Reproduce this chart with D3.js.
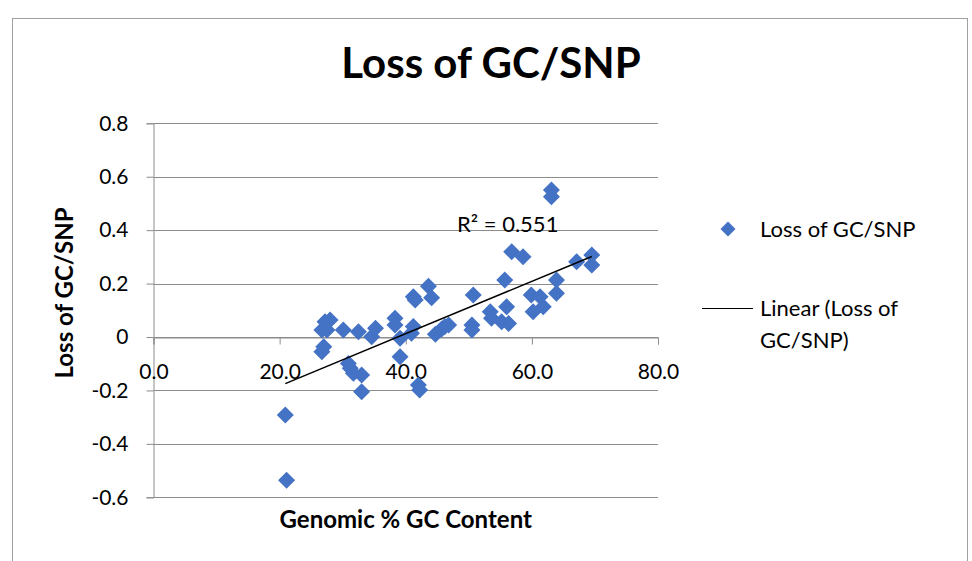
<!DOCTYPE html>
<html><head><meta charset="utf-8">
<script src="https://cdn.jsdelivr.net/npm/d3@7"></script>
<style>body{margin:0;background:#fff}svg{display:block}text{font-family:Lato,"Open Sans",sans-serif}</style>
</head><body><svg id="c" width="972" height="561"></svg>
<script>
const gcContent = [20.9,21.1,27.2,28.0,26.7,27.5,30.1,32.5,35.2,34.6,27.0,26.7,30.9,31.2,33.0,31.7,33.0,
  38.3,38.3,39.1,39.1,41.2,40.9,41.2,41.5,43.6,44.1,42.0,42.2,44.7,45.7,46.2,46.8,
  50.7,50.5,50.5,53.4,53.6,55.2,56.3,55.7,56.0,56.8,58.6,59.9,60.2,61.3,61.8,63.1,63.1,63.9,63.9,67.1,69.5,69.5];
const lossGcSnp = [-0.292,-0.536,0.057,0.064,0.026,0.026,0.026,0.020,0.033,0.001,-0.036,-0.055,-0.099,-0.117,-0.142,-0.136,-0.205,
  0.070,0.045,-0.005,-0.074,0.039,0.014,0.151,0.139,0.190,0.147,-0.180,-0.198,0.010,0.030,0.039,0.045,
  0.157,0.045,0.026,0.095,0.070,0.057,0.051,0.213,0.113,0.319,0.300,0.157,0.095,0.151,0.113,0.550,0.525,0.213,0.164,0.282,0.307,0.270];
const xTicks = [0,20,40,60,80];
const yTicks = [-0.6,-0.4,-0.2,0,0.2,0.4,0.6,0.8];
const chartTitle = "Loss of GC/SNP";
const xTitle = "Genomic % GC Content";
const yTitle = "Loss of GC/SNP";
const seriesName = "Loss of GC/SNP";
const trendName = ["Linear (Loss of", "GC/SNP)"];
const r2Label = "R² = 0.551";

const svg = d3.select("#c");
const L = 153.5, R = 658, T = 123.3, B = 497.3;
const x = d3.scaleLinear().domain([0,80]).range([L,R]);
const y = d3.scaleLinear().domain([-0.6,0.8]).range([B,T]);
const grid = "#8c8c8c";
const hy = s => s.replace("\u2212","-");

// frame
svg.append("rect").attr("x",12.5).attr("y",18.5).attr("width",955).attr("height",580)
  .attr("fill","none").attr("stroke","#a0a0a0").attr("stroke-width",1);

// title
svg.append("text").attr("x",491).attr("y",78).attr("text-anchor","middle")
  .attr("font-size",42).attr("font-weight","bold").text(chartTitle);

// gridlines
svg.append("g").selectAll("line").data(yTicks).join("line")
  .attr("x1",L).attr("x2",R).attr("y1",d=>Math.round(y(d))+0.5).attr("y2",d=>Math.round(y(d))+0.5)
  .attr("stroke",grid).attr("stroke-width",1);

// y axis
const ya = svg.append("g").attr("transform",`translate(${L},0)`)
  .call(d3.axisLeft(y).tickValues(yTicks).tickSize(7).tickPadding(18).tickFormat(d=>d===0?"0":hy(d3.format(".1f")(d))));
ya.select(".domain").attr("stroke",grid);
ya.selectAll(".tick line").attr("stroke",grid);
ya.selectAll("text").attr("font-size",21).attr("fill","#000").attr("font-family","Lato");

// x axis at y=0
const xa = svg.append("g").attr("transform",`translate(0,${Math.round(y(0))+0.5})`)
  .call(d3.axisBottom(x).tickValues(xTicks).tickSize(7).tickPadding(20).tickFormat(d=>hy(d3.format(".1f")(d))));
xa.select(".domain").attr("stroke",grid);
xa.selectAll(".tick line").attr("stroke",grid);
xa.selectAll("text").attr("font-size",21).attr("fill","#000").attr("font-family","Lato");

// axis titles
svg.append("text").attr("x",x(40)).attr("y",528).attr("text-anchor","middle")
  .attr("font-size",24).attr("font-weight","bold").text(xTitle);
svg.append("text").attr("transform","translate(73,293) rotate(-90)").attr("text-anchor","middle")
  .attr("font-size",24).attr("font-weight","bold").text(yTitle);

// points
const pts = gcContent.map((g,i)=>({x:g,y:lossGcSnp[i]}));
const dia = (s)=>`M0,${-s}L${s},0L0,${s}L${-s},0Z`;
svg.append("g").selectAll("path").data(pts).join("path")
  .attr("transform",d=>`translate(${x(d.x)},${y(d.y)})`).attr("d",dia(8.5)).attr("fill","#4472c4");

// trendline (least squares)
const mx = d3.mean(pts,d=>d.x), my = d3.mean(pts,d=>d.y);
const sxy = d3.sum(pts,d=>(d.x-mx)*(d.y-my)), sxx = d3.sum(pts,d=>(d.x-mx)**2);
const slope = sxy/sxx, icpt = my - slope*mx;
const [x0,x1] = d3.extent(gcContent);
svg.append("line").attr("x1",x(x0)).attr("y1",y(icpt+slope*x0)).attr("x2",x(x1)).attr("y2",y(icpt+slope*x1))
  .attr("stroke","#000").attr("stroke-width",1.5);
svg.append("text").attr("x",457).attr("y",232).attr("font-size",22).text(r2Label);

// legend
svg.append("path").attr("transform","translate(728,229)").attr("d",dia(7.5)).attr("fill","#4472c4");
svg.append("text").attr("x",760).attr("y",237).attr("font-size",22).text(seriesName);
svg.append("line").attr("x1",702).attr("x2",753).attr("y1",308.5).attr("y2",308.5).attr("stroke","#000").attr("stroke-width",1.2);
svg.append("text").attr("x",760).attr("y",316).attr("font-size",22).text(trendName[0]);
svg.append("text").attr("x",760).attr("y",348).attr("font-size",22).text(trendName[1]);
</script></body></html>
